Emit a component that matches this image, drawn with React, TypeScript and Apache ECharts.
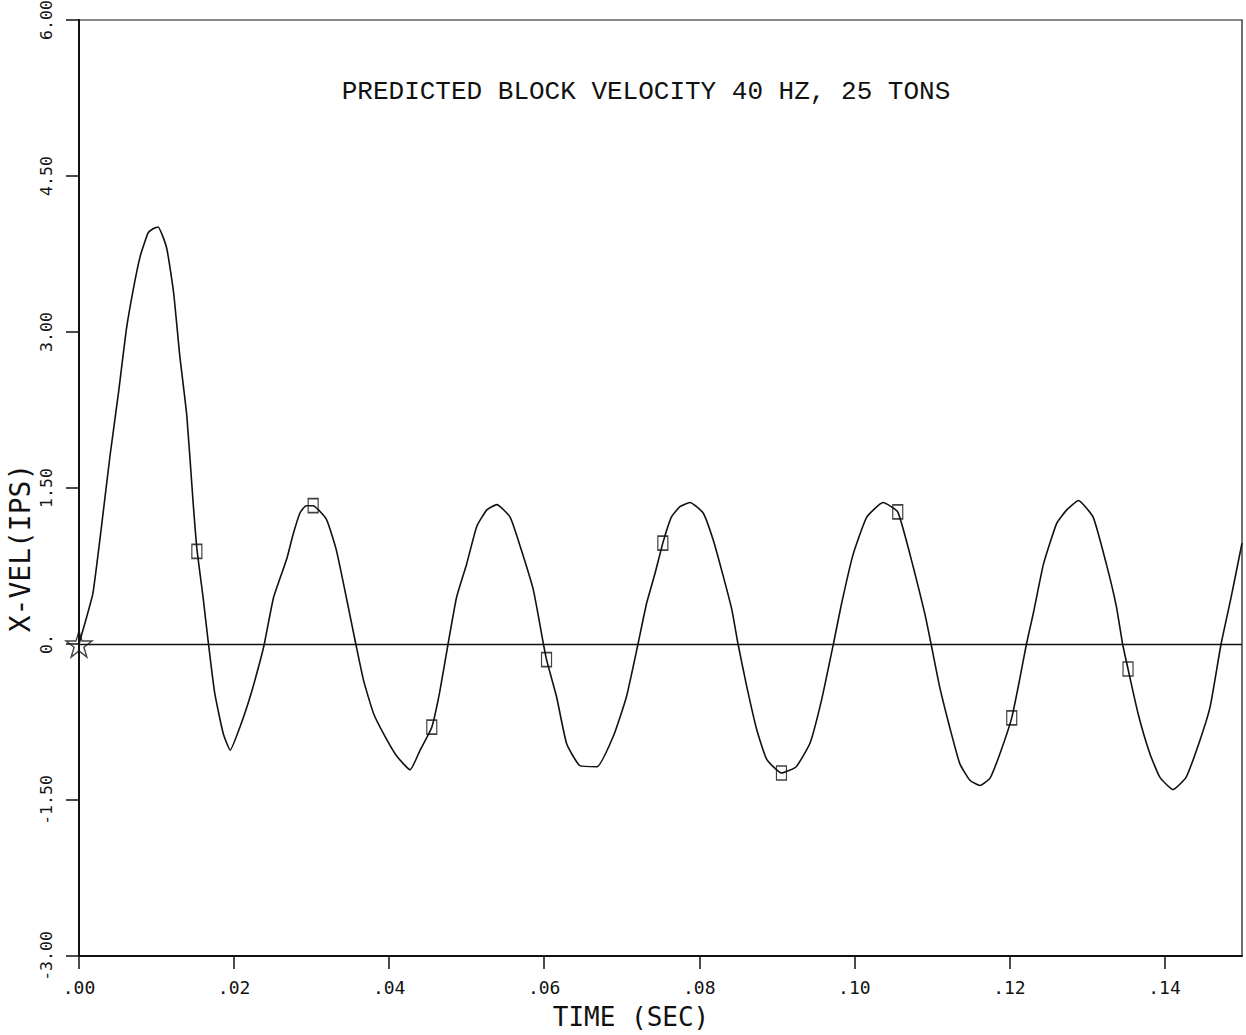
import React, { useEffect, useRef } from "react";
import * as echarts from "echarts";

// ---- data ----
const timeSec: number[] = [
  0.0, 0.0008, 0.0018, 0.0029, 0.004, 0.0051, 0.0061, 0.007, 0.0079, 0.0089,
  0.0095, 0.0102, 0.0113, 0.0122, 0.013, 0.0139, 0.0147, 0.0152, 0.016, 0.0167,
  0.0175, 0.0186, 0.0195, 0.0208, 0.0221, 0.0233, 0.0239, 0.0251, 0.0268,
  0.0276, 0.0285, 0.0293, 0.0302, 0.0319, 0.0332, 0.0345, 0.0357, 0.0367, 0.038,
  0.0397, 0.041, 0.0427, 0.044, 0.0455, 0.0465, 0.0476, 0.0487, 0.05, 0.0513,
  0.0526, 0.0539, 0.0556, 0.0569, 0.0586, 0.0599, 0.0603, 0.0616, 0.0629, 0.0646,
  0.0668, 0.0689, 0.0706, 0.0721, 0.0732, 0.0743, 0.0753, 0.0764, 0.0775,
  0.0788, 0.0805, 0.0818, 0.0831, 0.0842, 0.085, 0.0861, 0.0874, 0.0887, 0.0906,
  0.0925, 0.0943, 0.0958, 0.0973, 0.0983, 0.0998, 0.1016, 0.1037, 0.1056, 0.1076,
  0.1091, 0.1099, 0.111, 0.1123, 0.1136, 0.1149, 0.1162, 0.1175, 0.1188,
  0.1203, 0.1213, 0.1222, 0.1231, 0.1244, 0.1261, 0.1274, 0.1289, 0.1308, 0.1325,
  0.1338, 0.1346, 0.1353, 0.1366, 0.1381, 0.1394, 0.1411, 0.1428, 0.1446, 0.1459,
  0.1473, 0.1486, 0.15,
];
const xVelIps: number[] = [
  0.0, 0.21, 0.49, 1.13, 1.81, 2.42, 3.02, 3.41, 3.73, 3.95,
  3.99, 4.01, 3.81, 3.38, 2.77, 2.2, 1.38, 0.92, 0.45, 0.0,
  -0.47, -0.86, -1.02, -0.79, -0.5, -0.18, 0.0, 0.45, 0.82,
  1.05, 1.26, 1.33, 1.33, 1.2, 0.9, 0.44, 0.0, -0.35, -0.67,
  -0.92, -1.08, -1.21, -1.02, -0.8, -0.47, 0.0, 0.45, 0.77, 1.13,
  1.29, 1.34, 1.22, 0.94, 0.52, 0.0, -0.15, -0.51, -0.96, -1.17,
  -1.18, -0.89, -0.51, 0.0, 0.39, 0.68, 0.97, 1.22, 1.32,
  1.36, 1.26, 1.0, 0.65, 0.33, 0.0, -0.4, -0.82, -1.11, -1.24,
  -1.18, -0.95, -0.53, 0.0, 0.37, 0.85, 1.22, 1.36, 1.27, 0.74,
  0.29, 0.0, -0.41, -0.8, -1.15, -1.31, -1.36, -1.29, -1.05,
  -0.71, -0.35, 0.0, 0.3, 0.77, 1.16, 1.29, 1.38, 1.22, 0.77,
  0.36, 0.0, -0.24, -0.67, -1.05, -1.28, -1.4, -1.28, -0.92, -0.6,
  0.0, 0.45, 0.97,
];

const markerTimes: number[] = [0.0152, 0.0302, 0.0455, 0.0603, 0.0753, 0.0906, 0.1056, 0.1203, 0.1353];
const markerValues: number[] = [0.89, 1.33, -0.8, -0.15, 0.97, -1.24, 1.27, -0.71, -0.24];

const startTime: number[] = [0.0];
const startValue: number[] = [0.0];

const xTickLabels: string[] = [".00", ".02", ".04", ".06", ".08", ".10", ".12", ".14"];
const yTickValues: number[] = [-3, -1.5, 0, 1.5, 3, 4.5, 6];
const yTickLabels: string[] = ["-3.00", "-1.50", "0.", "1.50", "3.00", "4.50", "6.00"];

const titleText = "PREDICTED BLOCK VELOCITY 40 HZ, 25 TONS";
const xName = "TIME (SEC)";
const yName = "X-VEL(IPS)";

const STAR =
  "path://M50,0 L61,35 L98,35 L68,57 L79,91 L50,70 L21,91 L32,57 L2,35 L39,35 Z";

export default function App() {
  const ref = useRef<HTMLDivElement>(null);

  useEffect(() => {
    document.body.style.margin = "0";
    const chart = echarts.init(ref.current!, null, { renderer: "svg" });
    const ink = "#111";
    const mono = "DejaVu Sans Mono";

    chart.setOption({
      animation: false,
      backgroundColor: "#fff",
      grid: {
        left: 79,
        right: 4,
        top: 20,
        bottom: 79,
        outerBoundsMode: "none",
        containLabel: false,
        show: true,
        borderColor: ink,
        borderWidth: 1.2,
        backgroundColor: "transparent",
      },
      xAxis: {
        type: "value",
        min: 0,
        max: 0.15,
        interval: 0.02,
        splitLine: { show: false },
        axisLine: { show: true, onZero: false, lineStyle: { color: ink, width: 2 } },
        axisTick: { show: true, inside: false, length: 13, lineStyle: { color: ink, width: 1.5 } },
        axisLabel: {
          show: true,
          margin: 22,
          color: ink,
          fontFamily: mono,
          fontSize: 18,
          showMaxLabel: false,
          formatter: (v: number) => {
            const i = Math.round(v / 0.02);
            return Math.abs(v - i * 0.02) < 1e-6 && i < xTickLabels.length ? xTickLabels[i] : "";
          },
        },
      },
      yAxis: {
        type: "value",
        min: -3,
        max: 6,
        interval: 1.5,
        splitLine: { show: false },
        axisLine: { show: true, onZero: false, lineStyle: { color: ink, width: 2 } },
        axisTick: { show: true, inside: false, length: 13, lineStyle: { color: ink, width: 1.5 } },
        axisLabel: {
          show: true,
          rotate: 90,
          margin: 24,
          color: ink,
          fontFamily: mono,
          fontSize: 16.5,
          showMinLabel: true,
          showMaxLabel: true,
          formatter: (v: number) => {
            const i = yTickValues.findIndex((t) => Math.abs(t - v) < 1e-6);
            return i >= 0 ? yTickLabels[i] : "";
          },
        },
      },
      series: [
        {
          type: "line",
          data: timeSec.map((t, i) => [t, xVelIps[i]]),
          showSymbol: false,
          smooth: 0.15,
          lineStyle: { color: ink, width: 1.6 },
          silent: true,
          markLine: {
            silent: true,
            symbol: "none",
            label: { show: false },
            lineStyle: { color: ink, width: 1.3, type: "solid" },
            data: [{ yAxis: 0 }],
          },
        },
        {
          type: "scatter",
          data: markerTimes.map((t, i) => [t, markerValues[i]]),
          symbol: "rect",
          symbolSize: [10, 14],
          itemStyle: { color: "transparent", borderColor: ink, borderWidth: 1.4 },
          silent: true,
        },
        {
          type: "scatter",
          data: startTime.map((t, i) => [t, startValue[i]]),
          symbol: STAR,
          symbolSize: 26,
          itemStyle: { color: "transparent", borderColor: ink, borderWidth: 1.4 },
          silent: true,
        },
      ],
      graphic: [
        {
          type: "text",
          x: 646,
          y: 92,
          style: {
            text: titleText,
            fontFamily: "Liberation Mono",
            fontSize: 26,
            fill: ink,
            textAlign: "center",
            textVerticalAlign: "middle",
          },
        },
        {
          type: "text",
          x: 631,
          y: 1017,
          style: {
            text: xName,
            fontFamily: mono,
            fontSize: 26,
            fill: ink,
            textAlign: "center",
            textVerticalAlign: "middle",
          },
        },
        {
          type: "text",
          x: 20,
          y: 548,
          rotation: Math.PI / 2,
          style: {
            text: yName,
            fontFamily: mono,
            fontSize: 28,
            fill: ink,
            textAlign: "center",
            textVerticalAlign: "middle",
          },
        },
      ],
    });

    return () => chart.dispose();
  }, []);

  return <div ref={ref} style={{ width: 1246, height: 1035 }} />;
}
